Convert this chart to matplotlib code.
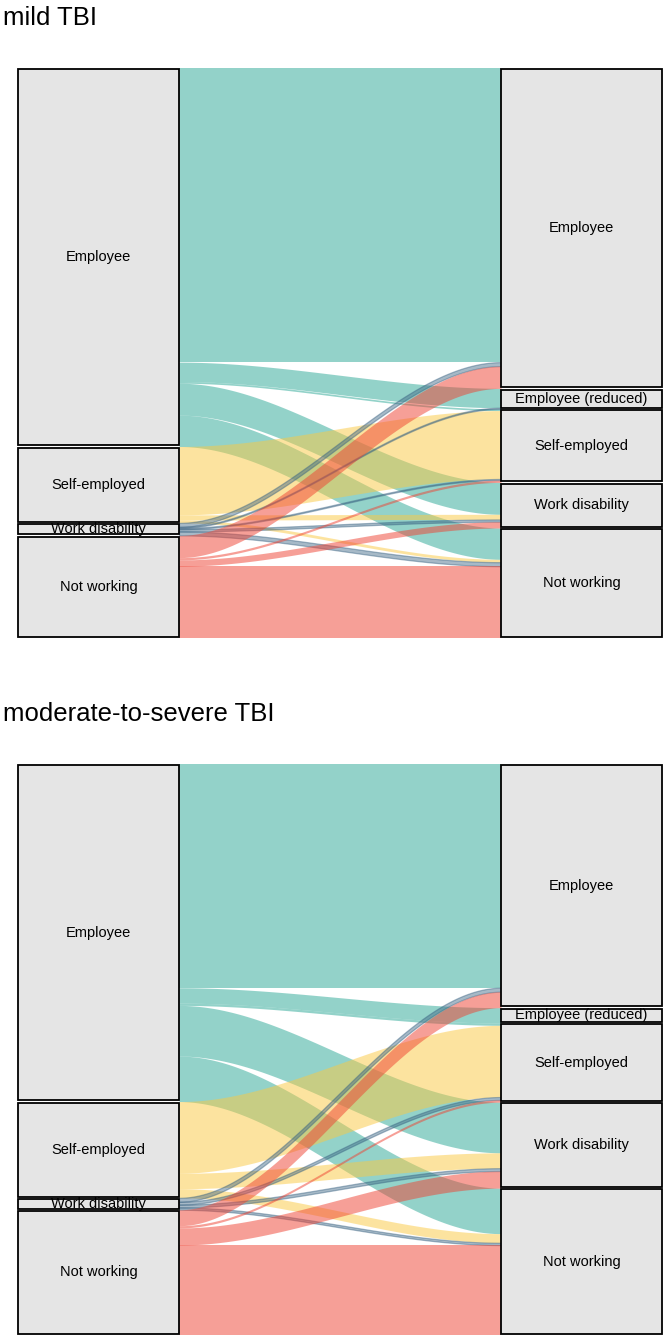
import numpy as np
import matplotlib.pyplot as plt
from matplotlib.patches import Rectangle

plt.rcParams['font.family'] = ['Liberation Sans', 'DejaVu Sans']

# strata (top to bottom)
left_levels = ["Employee", "Self-employed", "Work disability", "Not working"]
right_levels = ["Employee", "Employee (reduced)", "Self-employed",
                "Work disability", "Not working"]

# rows = status before TBI, columns = status after TBI (% of group)
mild_flows = [
    [51.6, 3.4, 0.3, 5.6, 5.5],
    [0.0, 0.0, 12.0, 0.9, 0.5],
    [0.7, 0.2, 0.2, 0.4, 0.7],
    [3.9, 0.0, 0.4, 1.1, 12.6],
]
severe_flows = [
    [39.3, 2.7, 0.4, 8.9, 8.0],
    [0.0, 0.0, 12.6, 2.7, 1.6],
    [0.7, 0.0, 0.5, 0.5, 0.4],
    [2.8, 0.0, 0.4, 3.0, 15.8],
]
titles = ["mild TBI", "moderate-to-severe TBI"]

flow_colors = ["#29A795", "#FBC941", "#3B6483", "#EF4131"]
W = 1 / 3      # stratum width
GAP = 0.22     # little gap between stratum boxes


def draw_panel(ax, flows):
    M = np.array(flows)
    total = M.sum()
    left_sizes = M.sum(axis=1)
    right_sizes = M.sum(axis=0)
    left_tops = np.concatenate([[0], np.cumsum(left_sizes)[:-1]])
    right_tops = np.concatenate([[0], np.cumsum(right_sizes)[:-1]])

    x0, x1 = 1 + W / 2, 2 - W / 2
    xs = np.linspace(x0, x1, 200)
    u = (xs - x0) / (x1 - x0)
    s = u * u * (3 - 2 * u)

    for i in range(M.shape[0]):
        for j in range(M.shape[1]):
            v = M[i, j]
            if v <= 0:
                continue
            y_left = left_tops[i] + M[i, :j].sum()
            y_right = right_tops[j] + M[:i, j].sum()
            top = y_left + (y_right - y_left) * s
            if left_levels[i] == "Work disability":
                ax.fill_between(xs, top, top + v, facecolor=flow_colors[i],
                                alpha=0.45, edgecolor=flow_colors[i], lw=0.9)
            else:
                ax.fill_between(xs, top, top + v, color=flow_colors[i],
                                alpha=0.5, lw=0)

    for xc, levels, tops, sizes in [(1, left_levels, left_tops, left_sizes),
                                    (2, right_levels, right_tops, right_sizes)]:
        for lab, t, h in zip(levels, tops, sizes):
            ax.add_patch(Rectangle((xc - W / 2, t + GAP), W, h - 2 * GAP,
                                   facecolor="#E5E5E5", edgecolor="black",
                                   lw=1.3, zorder=3, clip_on=False))
            ax.text(xc, t + h / 2, lab, ha="center", va="center",
                    fontsize=10.5, zorder=4)

    ax.set_xlim(1 - W / 2, 2 + W / 2)
    ax.set_ylim(total, 0)
    ax.axis("off")


fig = plt.figure(figsize=(6.65, 13.39), dpi=100)
H = 1339.0
panels = [(68, 638, 18), (764, 1335, 714)]
for (top_px, bot_px, title_px), flows, title in zip(panels, [mild_flows, severe_flows], titles):
    ax = fig.add_axes([18 / 665, 1 - bot_px / H, 644 / 665, (bot_px - top_px) / H])
    draw_panel(ax, flows)
    fig.text(3 / 665, 1 - title_px / H, title, fontsize=18.5, ha="left", va="center")

fig.savefig("out.png", dpi=100, facecolor="white")
